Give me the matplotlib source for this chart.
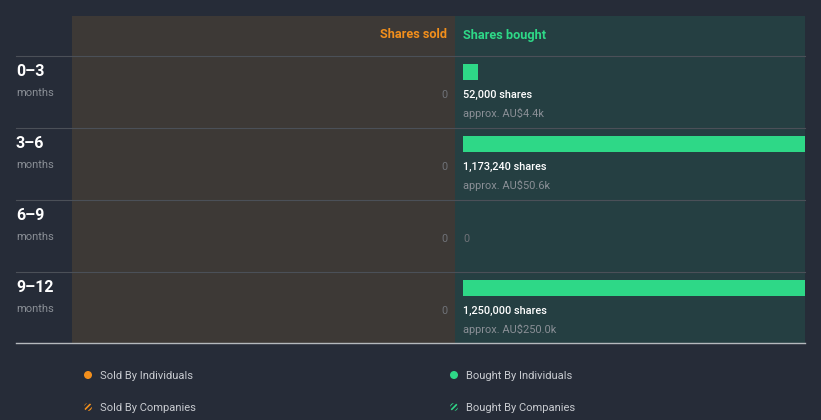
import matplotlib.pyplot as plt
from matplotlib.patches import Rectangle, Circle

plt.rcParams['font.family'] = ['Roboto', 'DejaVu Sans']
plt.rcParams['hatch.linewidth'] = 1.2

# data
periods = ['0–3', '3–6', '6–9', '9–12']
sold = [0, 0, 0, 0]
bought = [52000, 1173240, 0, 1250000]
bought_value = ['AU$4.4k', 'AU$50.6k', '', 'AU$250.0k']
legend_labels = ['Sold By Individuals', 'Bought By Individuals',
                 'Sold By Companies', 'Bought By Companies']

BG = '#262c38'
SOLD_BG = '#3d3936'
BUY_BG = '#253f42'
ORANGE = '#f28f1c'
GREEN = '#2ed887'
GRID = '#4b5058'
GREY = '#8a8f96'

W, H = 821, 420
fig = plt.figure(figsize=(W / 100, H / 100), dpi=100, facecolor=BG)

# layout axes in pixel coordinates
ax = fig.add_axes([0, 0, 1, 1])
ax.set_xlim(0, W)
ax.set_ylim(H, 0)
ax.axis('off')
ax.set_facecolor(BG)

ax.add_patch(Rectangle((72, 16), 383, 327, color=SOLD_BG, lw=0))
ax.add_patch(Rectangle((455, 16), 350, 327, color=BUY_BG, lw=0))

ax.text(447, 35, 'Shares sold', color=ORANGE, fontsize=9.2, fontweight='bold',
        ha='right', va='center')
ax.text(463, 35, 'Shares bought', color=GREEN, fontsize=9.2, fontweight='bold',
        ha='left', va='center')

row_h = 72
top0 = 56
for i, p in enumerate(periods):
    top = top0 + i * row_h
    ax.plot([16, 805], [top, top], color=GRID, lw=0.8)
    ax.text(16, top + 15, p, color='white', fontsize=11.5, fontweight='bold',
            ha='left', va='center')
    ax.text(16, top + 37, 'months', color=GREY, fontsize=8,
            ha='left', va='center')
    ax.text(447, top + 39, f'{sold[i]:,}', color='#6f7278', fontsize=7.8,
            ha='right', va='center')
ax.plot([16, 805], [343, 343], color='#b5b9bd', lw=1)

# bought bars
axb = fig.add_axes([463 / W, 1 - 343 / H, 342 / W, 327 / H])
axb.set_ylim(343, 16)
axb.set_xlim(0, 1150000)
axb.axis('off')
centers = [top0 + i * row_h + 16 for i in range(len(periods))]
axb.barh(centers, bought, height=16, color=GREEN, left=0)
for i, (c, v) in enumerate(zip(centers, bought)):
    if v > 0:
        axb.text(0, c + 23, f'{v:,} shares', color='white', fontsize=7.8,
                 fontweight='medium', ha='left', va='center')
        axb.text(0, c + 41, f'approx. {bought_value[i]}', color=GREY,
                 fontsize=7.9, ha='left', va='center')
    else:
        axb.text(0, c + 23, '0', color='#6f7278', fontsize=7.8,
                 ha='left', va='center')

# legend
leg = [(88, 375, ORANGE, None), (454, 375, GREEN, None),
       (88, 407, ORANGE, '//////'), (454, 407, GREEN, '//////')]
for (x, y, col, hatch), lab in zip(leg, legend_labels):
    if hatch is None:
        ax.add_patch(Circle((x, y), 4, color=col, lw=0))
    else:
        ax.add_patch(Circle((x, y), 4, facecolor=BG, edgecolor=col,
                            hatch=hatch, lw=0))
    ax.text(x + 12, y + 1, lab, color='#c8cbd0', fontsize=8, ha='left',
            va='center')

fig.savefig('out.png', dpi=100, facecolor=BG)
